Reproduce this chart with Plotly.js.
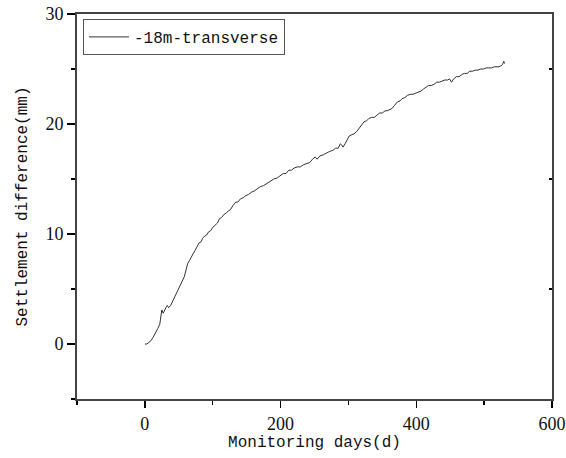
<!DOCTYPE html>
<html>
<head>
<meta charset="utf-8">
<script src="https://cdn.plot.ly/plotly-3.0.1.min.js"></script>
<style>html,body{margin:0;padding:0;background:#fff;}</style>
</head>
<body>
<div id="chart" style="width:566px;height:458px;"></div>
<script>
const seriesName = "-18m-transverse";
const days = [0,3,6,9,12,16,19,22,24,25,27,29,31,33,35,38,41,43,46,49,53,56,58,61,63,66,68,71,74,77,80,83,85,88,91,94,97,100,104,107,110,113,117,120,123,126,130,134,137,141,145,149,153,157,161,165,170,175,180,185,190,195,200,204,208,212,216,220,225,229,234,239,243,247,251,254,258,263,268,272,277,281,285,288,290,292,295,298,301,304,308,312,316,320,323,327,330,334,338,342,346,350,354,357,360,364,368,372,376,379,383,387,391,395,399,403,407,411,415,418,422,426,430,434,438,442,446,449,452,455,459,463,467,471,475,479,483,487,491,495,499,503,507,511,515,519,522,525,527,529,530];
const settlement = [0,0.0,0.15,0.3,0.6,1.0,1.4,1.8,2.9,3.1,2.8,3.1,3.3,3.5,3.3,3.5,3.9,4.2,4.6,5.0,5.5,5.8,6.1,6.8,7.3,7.6,7.9,8.2,8.5,8.8,9.2,9.3,9.6,9.8,9.9,10.2,10.3,10.6,10.8,11.0,11.4,11.5,11.8,11.9,12.1,12.2,12.6,12.9,12.9,13.2,13.3,13.5,13.6,13.8,13.9,14.1,14.3,14.4,14.6,14.8,15.0,15.1,15.3,15.5,15.5,15.8,15.8,16.0,16.1,16.1,16.3,16.4,16.5,16.8,17.0,16.8,17.1,17.2,17.4,17.5,17.6,17.8,17.8,18.2,18.1,17.9,18.2,18.6,18.9,19.0,19.1,19.3,19.6,19.9,20.2,20.3,20.5,20.6,20.6,20.8,21.0,21.0,21.2,21.2,21.3,21.4,21.7,22.0,22.1,22.3,22.4,22.6,22.7,22.7,22.8,22.9,23.0,23.2,23.4,23.5,23.5,23.6,23.8,23.8,23.9,24.0,24.0,24.1,23.8,24.1,24.3,24.3,24.5,24.6,24.6,24.8,24.8,24.9,24.9,25.0,25.0,25.1,25.1,25.1,25.2,25.2,25.2,25.3,25.4,25.7,25.5];
const xTickVals = [0,200,400,600];
const yTickVals = [0,10,20,30];
const yRightMinor = [5,15,25];
const xTitle = "Monitoring days(d)";
const yTitle = "Settlement difference(mm)";

const mono = "Liberation Mono";
const serif = "Liberation Serif";

const traces = [
  {x: days, y: settlement, type: 'scatter', mode: 'lines', name: seriesName,
   line: {color: '#333333', width: 1}},
  {x: [], y: [], type: 'scatter', mode: 'lines', yaxis: 'y2', showlegend: false, hoverinfo: 'skip'}
];

const layout = {
  width: 566, height: 458,
  margin: {l: 77, r: 14, t: 14, b: 59, pad: 0},
  paper_bgcolor: '#ffffff', plot_bgcolor: '#ffffff',
  showlegend: true,
  legend: {x: 0.0126, y: 0.987, xanchor: 'left', yanchor: 'top',
    bordercolor: '#555555', borderwidth: 1, bgcolor: '#ffffff',
    itemwidth: 40,
    font: {family: mono, size: 16, color: '#111111'}, tracegroupgap: 0},
  xaxis: {
    range: [-100, 600], tickvals: xTickVals, ticktext: xTickVals.map(String),
    ticks: 'outside', ticklen: 7, tickwidth: 1.5, tickcolor: '#000',
    minor: {dtick: 100, tick0: 0, ticks: 'outside', ticklen: 4, tickwidth: 1.5, tickcolor: '#000', showgrid: false},
    showline: true, linecolor: '#444444', linewidth: 2, mirror: true,
    showgrid: false, zeroline: false,
    tickfont: {family: serif, size: 18, color: '#111'},
    title: {text: xTitle, font: {family: mono, size: 16, color: '#111'}, standoff: 2},
    automargin: false
  },
  yaxis: {
    range: [-5, 30], tickvals: yTickVals, ticktext: yTickVals.map(String),
    ticks: 'outside', ticklen: 8, tickwidth: 1.5, tickcolor: '#000',
    minor: {dtick: 5, tick0: 0, ticks: 'outside', ticklen: 4, tickwidth: 1.5, tickcolor: '#000', showgrid: false},
    showline: true, linecolor: '#444444', linewidth: 2, mirror: true,
    showgrid: false, zeroline: false,
    tickfont: {family: serif, size: 18, color: '#111'},
    title: {text: yTitle, font: {family: mono, size: 16, color: '#111'}, standoff: 14},
    automargin: false
  },
  yaxis2: {
    overlaying: 'y', side: 'right', range: [-5, 30],
    tickvals: yRightMinor, showticklabels: false,
    ticks: 'inside', ticklen: 3, tickwidth: 1.5, tickcolor: '#000',
    showline: false, showgrid: false, zeroline: false
  }
};

Plotly.newPlot('chart', traces, layout, {displayModeBar: false, staticPlot: true});
</script>
</body>
</html>
